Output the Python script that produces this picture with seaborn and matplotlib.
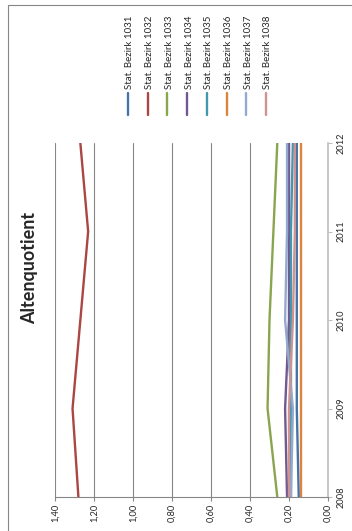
import matplotlib
matplotlib.use("Agg")
import matplotlib.pyplot as plt
from matplotlib.lines import Line2D
from matplotlib.patches import Rectangle
import seaborn as sns
import pandas as pd

years = [2008, 2009, 2010, 2011, 2012]
series_names = ["Stat. Bezirk 1031", "Stat. Bezirk 1032", "Stat. Bezirk 1033", "Stat. Bezirk 1034",
                "Stat. Bezirk 1035", "Stat. Bezirk 1036", "Stat. Bezirk 1037", "Stat. Bezirk 1038"]
b1031 = [0.15, 0.16, 0.16, 0.16, 0.16]
b1032 = [1.28, 1.31, 1.27, 1.23, 1.27]
b1033 = [0.26, 0.31, 0.30, 0.28, 0.26]
b1034 = [0.21, 0.22, 0.20, 0.20, 0.20]
b1035 = [0.19, 0.19, 0.19, 0.19, 0.18]
b1036 = [0.14, 0.14, 0.14, 0.14, 0.14]
b1037 = [0.19, 0.18, 0.22, 0.21, 0.21]
b1038 = [0.20, 0.20, 0.18, 0.17, 0.17]
colors = ["#4572A7", "#AA4643", "#89A54E", "#71588F", "#4198AF", "#DB843D", "#93A9CF", "#D19392"]
value_ticks = [0.0, 0.2, 0.4, 0.6, 0.8, 1.0, 1.2, 1.4]
title = "Altenquotient"

all_vals = [b1031, b1032, b1033, b1034, b1035, b1036, b1037, b1038]
rows = []
for name, vals in zip(series_names, all_vals):
    for y, v in zip(years, vals):
        rows.append({"Bezirk": name, "Jahr": y, "Wert": v})
df = pd.DataFrame(rows)

sns.set_style("white")
plt.rcParams["font.family"] = ["Lato", "DejaVu Sans"]

W, H = 352, 531
fig = plt.figure(figsize=(W / 100, H / 100), dpi=100)
ax = fig.add_axes([55 / W, (H - 497) / H, 273 / W, 354 / H])

sns.lineplot(data=df, x="Wert", y="Jahr", hue="Bezirk", palette=colors, orient="y",
             linewidth=1.7, ax=ax, legend=False)

ax.set_xlim(1.4, 0.0)
ax.set_ylim(years[0], years[-1])
ax.set_xticks(value_ticks)
ax.set_xticklabels([f"{v:.2f}".replace(".", ",") for v in value_ticks])
ax.set_yticks(years)
ax.set_yticklabels([str(y) for y in years])
ax.yaxis.tick_right()
ax.set_xlabel("")
ax.set_ylabel("")

ax.grid(axis="x", color="#868686", linewidth=0.8)
ax.grid(axis="y", visible=False)
for s in ["top", "left"]:
    ax.spines[s].set_visible(False)
ax.spines["bottom"].set_color("#868686")
ax.spines["bottom"].set_linewidth(0.8)
ax.spines["right"].set_color("#BFBFBF")
ax.spines["right"].set_linewidth(1.2)
ax.tick_params(axis="x", direction="out", length=3, width=0.8, color="#868686",
               labelrotation=90, labelsize=6.7, pad=2, bottom=True)
ax.tick_params(axis="y", direction="out", length=3, width=0.8, color="#BFBFBF",
               labelrotation=90, labelsize=6.7, pad=3, right=True, left=False)
for lbl in ax.get_yticklabels():
    lbl.set_verticalalignment("center")
    lbl.set_horizontalalignment("left")

fig.text(30 / W, 1 - 268 / H, title, rotation=90, ha="center", va="center",
         fontsize=13, fontweight="bold")

# legend (rotated)
for i, (name, c) in enumerate(zip(series_names, colors)):
    x = (130 + i * 19.7) / W
    fig.add_artist(Line2D([x - 2 / W, x - 2 / W], [1 - 115 / H, 1 - 93 / H], color=c, linewidth=1.7))
    fig.text(x, 1 - 89 / H, name, rotation=90, ha="center", va="bottom", fontsize=7)

fig.add_artist(Rectangle((8 / W, -0.1), 1.0, 1.1 - 4.5 / H, transform=fig.transFigure,
                         fill=False, edgecolor="#868686", linewidth=0.8))

fig.savefig("out.png", dpi=100)
